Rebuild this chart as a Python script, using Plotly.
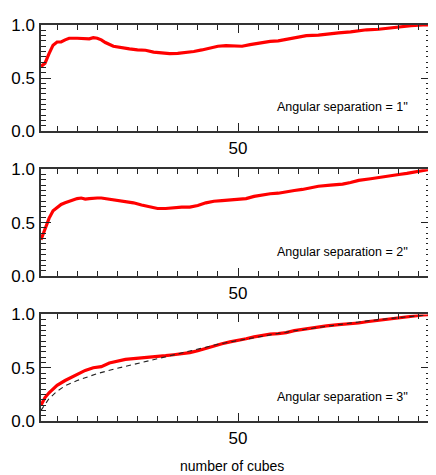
import plotly.graph_objects as go

# Panel 1: angular separation = 1''
x1 = [1, 2, 3, 4, 5, 6, 7, 8, 10, 12, 13, 14, 15, 16, 17, 19, 21, 23, 25, 27, 29, 31, 33, 35, 37, 39,
      41, 43, 45, 47, 49, 51, 53, 55, 58, 60, 62, 65, 67, 70, 72, 75, 78, 80, 82, 85, 88, 90, 93, 96, 98]
y1 = [0.61, 0.64, 0.73, 0.81, 0.84, 0.84, 0.86, 0.875, 0.875, 0.87, 0.87, 0.88, 0.875, 0.86, 0.835, 0.80,
      0.785, 0.775, 0.765, 0.762, 0.745, 0.735, 0.73, 0.733, 0.74, 0.75, 0.765, 0.785, 0.80, 0.805, 0.80,
      0.80, 0.815, 0.83, 0.845, 0.85, 0.865, 0.885, 0.90, 0.905, 0.91, 0.925, 0.935, 0.945, 0.955, 0.96,
      0.975, 0.985, 0.993, 1.0, 1.0]

# Panel 2: angular separation = 2''
x2 = [1, 2, 3, 4, 5, 6, 7, 8, 9, 10, 11, 12, 13, 14, 15, 16, 17, 18, 20, 22, 24, 26, 28, 30, 32, 34, 36,
      38, 40, 42, 44, 46, 48, 50, 52, 54, 56, 58, 60, 62, 64, 66, 68, 70, 73, 76, 78, 80, 83, 86, 88, 90,
      92, 94, 96, 98]
y2 = [0.34, 0.44, 0.54, 0.61, 0.645, 0.67, 0.685, 0.70, 0.715, 0.725, 0.73, 0.72, 0.725, 0.73, 0.73, 0.73,
      0.725, 0.72, 0.71, 0.70, 0.685, 0.665, 0.645, 0.632, 0.632, 0.64, 0.645, 0.645, 0.66, 0.685, 0.70,
      0.705, 0.71, 0.715, 0.725, 0.745, 0.76, 0.77, 0.775, 0.79, 0.80, 0.81, 0.825, 0.84, 0.85, 0.86, 0.875,
      0.895, 0.91, 0.93, 0.94, 0.95, 0.96, 0.975, 0.99, 1.0]

# Panel 3: angular separation = 3''
x3 = [1, 2, 3, 4, 5, 7, 9, 10, 12, 14, 16, 18, 20, 22, 24, 26, 28, 30, 32, 34, 36, 38, 40, 42, 44, 46, 48,
      50, 52, 54, 56, 58, 60, 62, 64, 66, 68, 70, 72, 75, 78, 80, 82, 85, 88, 90, 92, 94, 96, 98]
y3 = [0.147, 0.22, 0.265, 0.30, 0.335, 0.38, 0.42, 0.435, 0.475, 0.50, 0.51, 0.545, 0.565, 0.578, 0.586,
      0.592, 0.596, 0.603, 0.613, 0.622, 0.63, 0.642, 0.66, 0.683, 0.70, 0.725, 0.743, 0.755, 0.772, 0.79,
      0.805, 0.815, 0.82, 0.83, 0.848, 0.86, 0.872, 0.884, 0.893, 0.905, 0.913, 0.92, 0.932, 0.947, 0.96,
      0.97, 0.98, 0.988, 0.995, 1.0]

# Panel 3 reference (dashed)
xr = [1, 2, 3, 5, 7, 10, 15, 20, 25, 30, 35, 40, 45, 50, 55, 60, 65, 70, 75, 80, 85, 90, 95, 98]
yr = [0.10, 0.16, 0.21, 0.28, 0.33, 0.38, 0.445, 0.495, 0.54, 0.59, 0.635, 0.68, 0.72, 0.755, 0.79, 0.822,
      0.852, 0.88, 0.906, 0.93, 0.952, 0.972, 0.99, 1.0]

labels = ["Angular separation = 1''", "Angular separation = 2''", "Angular separation = 3''"]
x_title = "number of cubes"
x_range = [1, 98]
y_range = [0, 1]

FONT = "Liberation Sans, Arial, sans-serif"
RED = "#ff0000"

fig = go.Figure()
series = [(x1, y1), (x2, y2), (x3, y3)]
for i, (xs, ys) in enumerate(series):
    sfx = "" if i == 0 else str(i + 1)
    fig.add_trace(go.Scatter(x=xs, y=ys, mode="lines", line=dict(color=RED, width=3.2),
                             xaxis="x" + sfx, yaxis="y" + sfx, showlegend=False))
fig.add_trace(go.Scatter(x=xr, y=yr, mode="lines", line=dict(color="#222222", width=1.1, dash="5px,4px"),
                         xaxis="x3", yaxis="y3", showlegend=False))

domains = [[0.732, 1.0], [0.366, 0.636], [0.0, 0.269]]
# page body has an 8px margin, so the figure is 8px smaller and margins shifted
layout = dict(width=428, height=467, margin=dict(l=31, r=3, t=17, b=54),
              paper_bgcolor="white", plot_bgcolor="white",
              font=dict(family=FONT, color="black"), showlegend=False)
for i in range(3):
    sfx = "" if i == 0 else str(i + 1)
    layout["xaxis" + sfx] = dict(
        range=x_range, domain=[0, 1], anchor="y" + sfx,
        showgrid=False, zeroline=False, showline=True, linecolor="#333333", linewidth=1.5,
        mirror="ticks", ticks="inside", ticklen=8, tickwidth=1.2, tickcolor="#222222",
        tickmode="linear", tick0=0, dtick=50, ticklabelstandoff=1,
        tickfont=dict(size=17, family=FONT, color="black"),
        minor=dict(ticks="inside", ticklen=5, tickwidth=1.2, tickcolor="#222222", dtick=5, tick0=0, showgrid=False),
    )
    layout["yaxis" + sfx] = dict(
        range=y_range, domain=domains[i], anchor="x" + sfx,
        showgrid=False, zeroline=False, showline=True, linecolor="#333333", linewidth=1.5,
        mirror="ticks", ticks="inside", ticklen=10, tickwidth=1.2, tickcolor="#222222",
        tickmode="linear", tick0=0, dtick=0.5, tickformat=".1f", ticklabelstandoff=1,
        tickfont=dict(size=17, family=FONT, color="black"),
        minor=dict(ticks="inside", ticklen=5, tickwidth=1.2, tickcolor="#222222", dtick=0.05, tick0=0, showgrid=False),
    )
fig.update_layout(**layout)

for i, lab in enumerate(labels):
    sfx = "" if i == 0 else str(i + 1)
    fig.add_annotation(text=lab, xref="x" + sfx + " domain", yref="y" + sfx + " domain",
                       x=0.945, y=0.225, xanchor="right", yanchor="middle", showarrow=False,
                       font=dict(size=12.5, family=FONT, color="black"))

fig.add_annotation(text=x_title, xref="paper", yref="paper", x=0.491, y=-0.114,
                   xanchor="center", yanchor="middle", showarrow=False,
                   font=dict(size=14, family=FONT, color="black"))

fig.write_html("out.html")
